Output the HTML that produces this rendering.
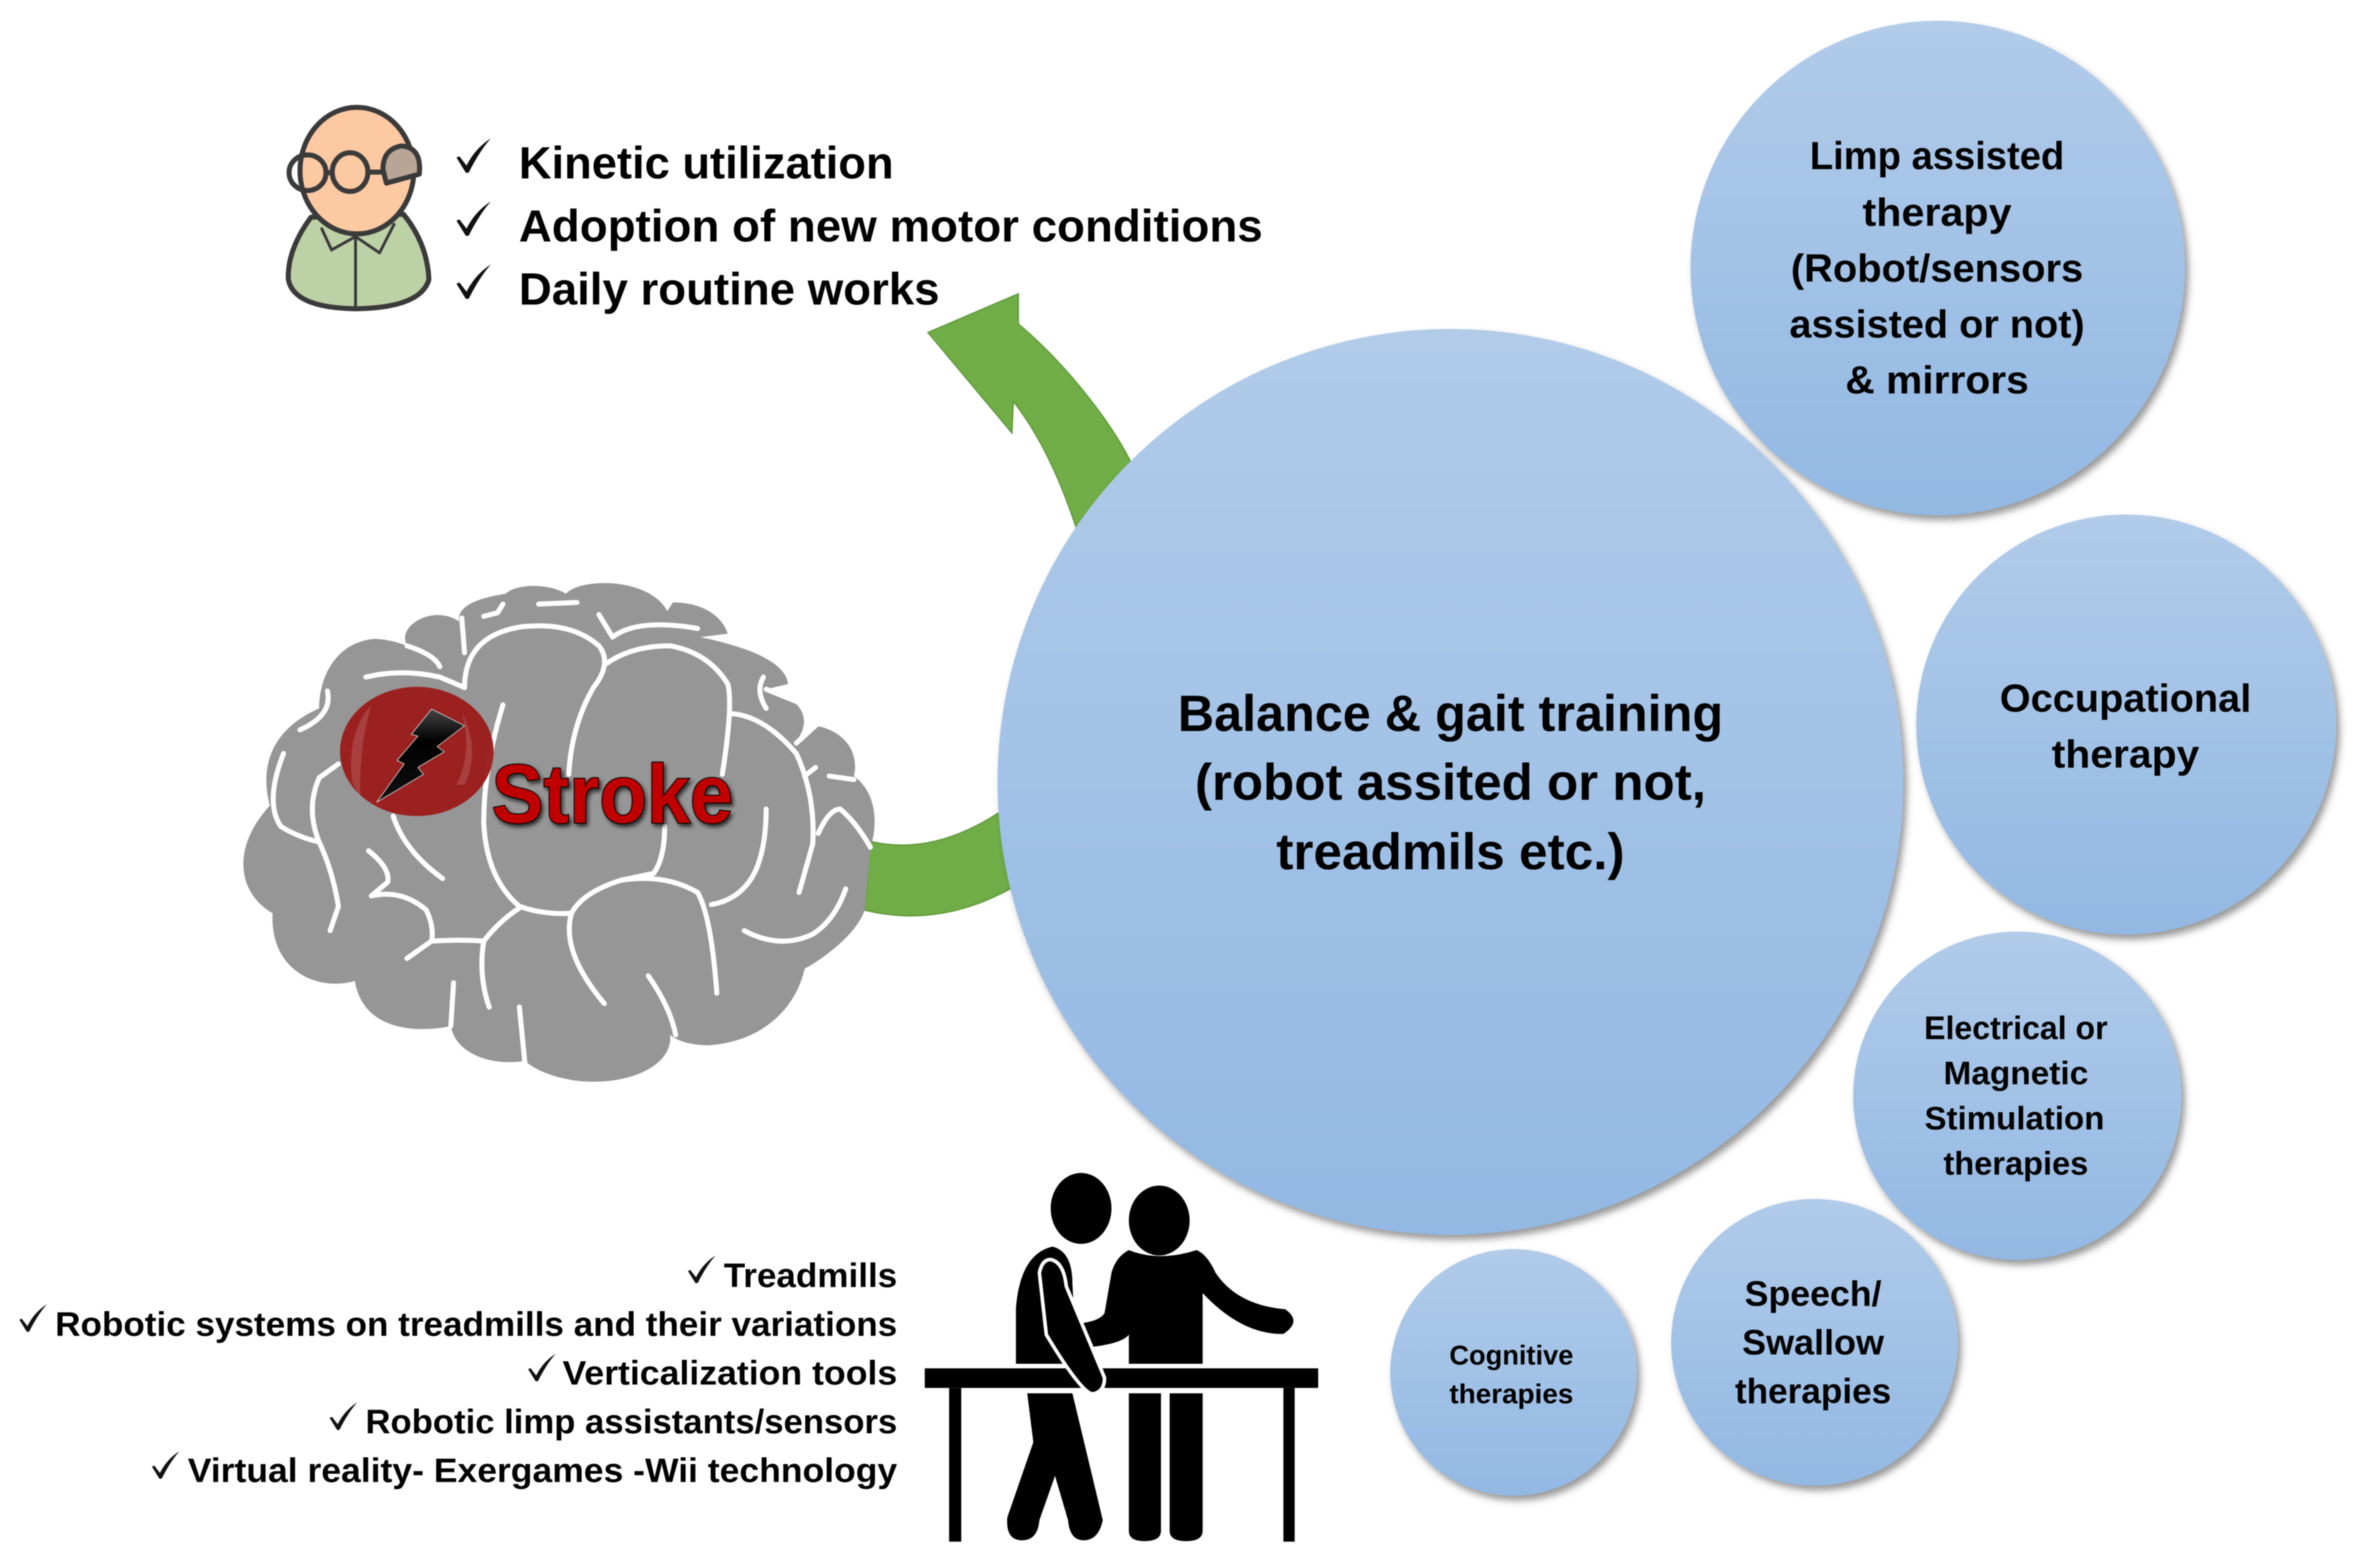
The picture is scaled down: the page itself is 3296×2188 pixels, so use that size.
<!DOCTYPE html>
<html><head><meta charset="utf-8"><title>Stroke rehabilitation</title>
<style>
html,body{margin:0;padding:0;background:#fff;width:3296px;height:2188px;overflow:hidden}
svg{display:block;filter:blur(.9px)}
text{font-family:"Liberation Sans",Arial,sans-serif;font-weight:bold;fill:#000}
.m{text-anchor:middle}
.ns{vector-effect:non-scaling-stroke}
</style></head><body>
<svg width="3296" height="2188" viewBox="0 0 3296 2188" xmlns="http://www.w3.org/2000/svg">
<defs>
<linearGradient id="b" x1="0" y1="0" x2="0" y2="1"><stop offset="0" stop-color="#b1cbe9"/><stop offset="1" stop-color="#92b8e3"/></linearGradient>
<linearGradient id="bolt" x1="0" y1="0" x2="0" y2="1"><stop offset="0" stop-color="#444"/><stop offset=".35" stop-color="#000"/><stop offset="1" stop-color="#111"/></linearGradient>
<filter id="sh" x="-10%" y="-10%" width="125%" height="125%"><feDropShadow dx="5" dy="7" stdDeviation="5" flood-color="#444" flood-opacity=".55"/></filter>
<filter id="tsh" x="-10%" y="-20%" width="125%" height="150%"><feDropShadow dx="3" dy="4" stdDeviation="3" flood-color="#000" flood-opacity=".7"/></filter>
<path id="c" d="M0,27 L4,25 L14,38 Q26,14 48,0 Q32,18 17,48 L13,48 Z" fill="#111"/>
</defs>
<rect width="3296" height="2188" fill="#fff"/>

<!-- green arrows -->
<path d="M1421,410 L1295,464 L1412,604 L1414,560 Q1465,625 1501,734 L1530,770 L1610,700 L1577,643 C1550,590 1490,510 1421,452 Z" fill="#70ad47" stroke="#639c3e" stroke-width="2"/>
<path d="M1214,1174 Q1300,1195 1394,1134 L1450,1100 L1450,1240 L1410,1240 Q1310,1295 1207,1270 Z" fill="#70ad47" stroke="#639c3e" stroke-width="2"/>

<!-- top person -->
<g transform="translate(300 100) scale(.9567 .4146)" stroke="#3a3a3a" stroke-width="7" stroke-linejoin="round">
<path class="ns" d="M140,490 Q105,600 107,700 Q115,795 205,798 Q300,795 312,700 Q310,580 275,480 Z" fill="#bdd1a7"/>
<path class="ns" d="M155,525 L170,600 L205,555 L240,610 L262,510 M205,555 L205,795" fill="none" stroke-width="4"/>
<ellipse class="ns" cx="207" cy="333" rx="83" ry="213" fill="#fdc9a2"/>
<ellipse class="ns" cx="135" cy="340" rx="27" ry="60" fill="none"/>
<ellipse class="ns" cx="197" cy="338" rx="26" ry="65" fill="#fdc9a2"/>
<path class="ns" d="M245,330 Q245,260 272,250 Q302,255 298,345 L250,375 Z" fill="#b9a595"/>
<path class="ns" d="M160,340 H172 M222,338 H245" fill="none"/>
</g>
<use href="#c" transform="translate(637 193)"/>
<use href="#c" transform="translate(637 281)"/>
<use href="#c" transform="translate(637 369)"/>
<text x="724" y="249" font-size="63" textLength="523" lengthAdjust="spacingAndGlyphs">Kinetic utilization</text>
<text x="724" y="337" font-size="63" textLength="1038" lengthAdjust="spacingAndGlyphs">Adoption of new motor conditions</text>
<text x="724" y="425" font-size="63" textLength="587" lengthAdjust="spacingAndGlyphs">Daily routine works</text>

<!-- brain -->
<g transform="translate(300 780) scale(.7653 .4847)" stroke-linejoin="round" stroke-linecap="round">
<path fill="#969696" d="M640,100 C665,55 790,50 825,150 L835,125 C890,125 925,165 935,215 L885,225 C960,250 1040,290 1045,360 L1005,375 C1060,395 1095,450 1060,525 L1095,480 C1150,495 1175,560 1165,625 C1205,670 1210,760 1195,830 L1185,1010 C1170,1080 1110,1150 1075,1180 C1060,1290 1000,1390 900,1400 C870,1400 845,1390 830,1370 C835,1450 770,1505 690,1505 C640,1505 590,1480 565,1445 C510,1460 440,1430 430,1345 C370,1365 270,1360 255,1215 C190,1245 100,1190 105,1020 C40,960 30,830 100,710 C85,620 90,500 190,430 C190,340 220,240 290,230 C310,230 335,240 350,250 C330,190 400,130 445,180 C440,130 490,110 530,100 C550,70 610,70 640,100 Z"/>
<g fill="none" stroke="#fff" stroke-width="7">
<path class="ns" d="M455,370 Q455,220 560,195 Q650,180 700,250 Q725,300 690,370 Q650,480 645,620"/>
<path class="ns" d="M715,300 Q760,250 830,250 Q900,270 935,360 Q945,420 925,620"/>
<path class="ns" d="M525,420 Q490,600 490,760 Q495,920 555,1000 Q600,1025 650,1020 Q670,960 740,925 Q820,905 880,960 Q905,1030 915,1250"/>
<path class="ns" d="M820,770 Q820,860 800,905 L740,925"/>
<path class="ns" d="M940,445 Q1000,450 1060,560 Q1095,680 1090,820 L1065,960"/>
<path class="ns" d="M905,995 Q960,980 985,900 Q1005,830 1005,720"/>
<path class="ns" d="M275,340 Q340,315 410,340 L455,370 M350,250 Q400,275 410,310"/>
<path class="ns" d="M205,380 Q215,450 155,492"/>
<path class="ns" d="M125,560 Q90,700 120,770 Q150,800 190,815 Q215,900 225,1000 L210,1070"/>
<path class="ns" d="M190,815 Q165,720 190,630 L225,590"/>
<path class="ns" d="M325,740 Q345,840 415,920"/>
<path class="ns" d="M280,840 Q320,890 315,930 L285,970 Q340,950 385,1010 Q400,1060 395,1100 L350,1150 M395,1100 Q450,1095 490,1100 Q520,1040 555,1005"/>
<path class="ns" d="M490,1100 Q480,1200 500,1290"/>
<path class="ns" d="M650,1020 Q630,1130 710,1280"/>
<path class="ns" d="M965,1070 Q1030,1125 1090,1080 Q1130,1040 1150,950"/>
<path class="ns" d="M790,1200 Q830,1290 840,1370"/>
<path class="ns" d="M435,1220 L430,1345 M555,1290 L565,1450"/>
<path class="ns" d="M700,160 L725,225 Q770,170 880,200"/>
<path class="ns" d="M450,170 L455,270 M525,130 L515,155 L490,165 M590,130 L660,125"/>
<path class="ns" d="M1000,340 Q985,380 1005,430 M1005,375 L1060,410"/>
<path class="ns" d="M1060,530 L1095,480 M1120,625 L1165,635 M1100,790 Q1120,720 1140,720 Q1170,760 1195,830"/>
<path class="ns" d="M1095,600 L1075,625"/>
</g>
<ellipse cx="368" cy="554" rx="140" ry="186" fill="#9a1d1c" fill-opacity=".97"/>
<path d="M250,640 Q240,500 285,420 Q262,540 265,690 Z" fill="#fff" opacity=".14"/>
<path d="M440,650 Q470,560 450,440 Q485,550 455,650 Z" fill="#fff" opacity=".14"/>
<path d="M395,432 L455,480 L405,540 L418,555 L370,600 L380,620 L295,700 L345,590 L332,580 L370,510 L358,505 Z" fill="url(#bolt)" stroke="#ddd" stroke-width="1" class="ns"/>
</g>
<text x="686" y="1148" font-size="116" textLength="337" lengthAdjust="spacingAndGlyphs" filter="url(#tsh)" style="fill:#c00000;stroke:#000;stroke-width:2.5;paint-order:stroke">Stroke</text>

<!-- circles -->
<g filter="url(#sh)">
<circle cx="2704" cy="374" r="345" fill="url(#b)"/>
<circle cx="2967" cy="1011" r="293" fill="url(#b)"/>
<circle cx="2815" cy="1529" r="229" fill="url(#b)"/>
<circle cx="2532" cy="1873" r="200" fill="url(#b)"/>
<circle cx="2112" cy="1915" r="172" fill="url(#b)"/>
<circle cx="2024" cy="1091" r="632" fill="url(#b)"/>
</g>
<text class="m" x="2024" y="1020" font-size="71" textLength="761" lengthAdjust="spacingAndGlyphs">Balance &amp; gait training</text>
<text class="m" x="2024" y="1116" font-size="71" textLength="713" lengthAdjust="spacingAndGlyphs">(robot assited or not,</text>
<text class="m" x="2024" y="1213" font-size="71" textLength="486" lengthAdjust="spacingAndGlyphs">treadmils etc.)</text>

<text class="m" x="2703" y="236" font-size="55" textLength="355" lengthAdjust="spacingAndGlyphs">Limp assisted</text>
<text class="m" x="2703" y="315" font-size="55" textLength="208" lengthAdjust="spacingAndGlyphs">therapy</text>
<text class="m" x="2703" y="393" font-size="55" textLength="408" lengthAdjust="spacingAndGlyphs">(Robot/sensors</text>
<text class="m" x="2703" y="471" font-size="55" textLength="412" lengthAdjust="spacingAndGlyphs">assisted or not)</text>
<text class="m" x="2703" y="549" font-size="55" textLength="256" lengthAdjust="spacingAndGlyphs">&amp; mirrors</text>

<text class="m" x="2966" y="993" font-size="55" textLength="351" lengthAdjust="spacingAndGlyphs">Occupational</text>
<text class="m" x="2966" y="1071" font-size="55" textLength="206" lengthAdjust="spacingAndGlyphs">therapy</text>

<text class="m" x="2813" y="1450" font-size="45" textLength="256" lengthAdjust="spacingAndGlyphs">Electrical or</text>
<text class="m" x="2813" y="1513" font-size="45" textLength="202" lengthAdjust="spacingAndGlyphs">Magnetic</text>
<text class="m" x="2811" y="1576" font-size="45" textLength="251" lengthAdjust="spacingAndGlyphs">Stimulation</text>
<text class="m" x="2813" y="1639" font-size="45" textLength="202" lengthAdjust="spacingAndGlyphs">therapies</text>

<text class="m" x="2530" y="1822" font-size="49" textLength="191" lengthAdjust="spacingAndGlyphs">Speech/</text>
<text class="m" x="2530" y="1890" font-size="49" textLength="198" lengthAdjust="spacingAndGlyphs">Swallow</text>
<text class="m" x="2530" y="1958" font-size="49" textLength="218" lengthAdjust="spacingAndGlyphs">therapies</text>

<text class="m" x="2109" y="1904" font-size="38" textLength="173" lengthAdjust="spacingAndGlyphs">Cognitive</text>
<text class="m" x="2109" y="1958" font-size="38" textLength="173" lengthAdjust="spacingAndGlyphs">therapies</text>

<!-- bottom list -->
<use href="#c" transform="translate(960 1752) scale(.8)"/>
<use href="#c" transform="translate(27 1820) scale(.8)"/>
<use href="#c" transform="translate(737 1889) scale(.8)"/>
<use href="#c" transform="translate(460 1957) scale(.8)"/>
<use href="#c" transform="translate(212 2025) scale(.8)"/>
<text x="1010" y="1796" font-size="47" textLength="242" lengthAdjust="spacingAndGlyphs">Treadmills</text>
<text x="77" y="1864" font-size="47" textLength="1175" lengthAdjust="spacingAndGlyphs">Robotic systems on treadmills and their variations</text>
<text x="785" y="1932" font-size="47" textLength="467" lengthAdjust="spacingAndGlyphs">Verticalization tools</text>
<text x="510" y="2000" font-size="47" textLength="742" lengthAdjust="spacingAndGlyphs">Robotic limp assistants/sensors</text>
<text x="262" y="2068" font-size="47" textLength="990" lengthAdjust="spacingAndGlyphs">Virtual reality- Exergames -Wii technology</text>

<!-- people & table -->
<g transform="translate(0 1600) scale(1.2117 .375)" fill="#000">
<ellipse cx="1245" cy="230" rx="35" ry="132"/>
<ellipse cx="1335" cy="275" rx="35" ry="130"/>
<path d="M1170,808 L1170,600 Q1175,400 1212,372 Q1235,390 1235,510 L1240,808 Z"/>
<path d="M1300,385 Q1335,430 1378,385 Q1390,400 1400,470 Q1425,590 1480,605 Q1500,650 1478,697 Q1430,700 1385,545 L1385,808 L1300,808 L1300,700 Q1290,740 1240,750 L1235,660 Q1265,655 1272,620 L1280,470 Q1285,410 1300,385 Z"/>
<rect x="1065" y="825" width="453" height="73"/>
<rect x="1093" y="898" width="14" height="572"/>
<rect x="1478" y="898" width="13" height="572"/>
<path d="M1300,918 H1337 V1430 Q1337,1468 1318,1468 Q1300,1468 1300,1430 Z"/>
<path d="M1347,918 H1385 V1430 Q1385,1468 1366,1468 Q1347,1468 1347,1430 Z"/>
<path d="M1183,918 H1235 L1270,1390 Q1265,1465 1248,1465 Q1232,1465 1230,1390 L1215,1225 L1197,1390 Q1195,1465 1177,1465 Q1158,1465 1160,1380 L1190,1100 Z"/>
<path class="ns" d="M1197,470 Q1200,420 1210,420 Q1225,430 1228,520 L1272,860 Q1272,915 1258,920 Q1245,915 1205,700 Z" stroke="#fff" stroke-width="5"/>
</g>
</svg>
</body></html>
